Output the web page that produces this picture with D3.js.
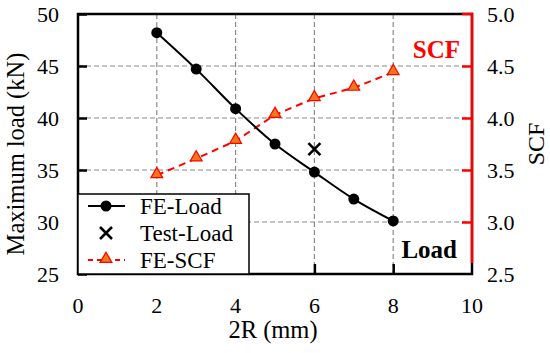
<!DOCTYPE html>
<html>
<head>
<meta charset="utf-8">
<script src="https://cdn.jsdelivr.net/npm/d3@7"></script>
<style>
  body { margin: 0; background: #fff; }
</style>
</head>
<body>
<svg id="chart" width="550" height="353"></svg>
<script>
// data
const diameters = [2, 3, 4, 5, 6, 7, 8];          // 2R (mm)
const feLoad = [48.2, 44.7, 40.9, 37.5, 34.8, 32.2, 30.1];   // kN
const testX = [6];
const testLoad = [37.0];
const feScf = [3.45, 3.61, 3.78, 4.03, 4.19, 4.29, 4.44];
const xTicks = [0, 2, 4, 6, 8, 10];
const yTicks = [25, 30, 35, 40, 45, 50];
const y2Ticks = [2.5, 3.0, 3.5, 4.0, 4.5, 5.0];
const legendNames = ["FE-Load", "Test-Load", "FE-SCF"];

const FONT = "'Liberation Serif', 'Times New Roman', 'DejaVu Serif', serif";
const margin = {top: 14, left: 78, right: 78, bottom: 79};
const W = 550, H = 353;
const svg = d3.select("#chart");

const x = d3.scaleLinear().domain([0, 10]).range([margin.left, W - margin.right]);
const y = d3.scaleLinear().domain([25, 50]).range([H - margin.bottom, margin.top]);
const y2 = d3.scaleLinear().domain([2.5, 5.0]).range([H - margin.bottom, margin.top]);

const x0 = x(0), x1 = x(10), yb = y(25), yt = y(50);

// grid
svg.append("g").selectAll("line")
  .data(xTicks.filter(d => d > 0 && d < 10))
  .join("line")
  .attr("x1", d => x(d)).attr("x2", d => x(d))
  .attr("y1", yt).attr("y2", yb)
  .attr("stroke", "#8a8a8a").attr("stroke-width", 1.2).attr("stroke-dasharray", "5,3");
svg.append("g").selectAll("line")
  .data(yTicks.filter(d => d > 25 && d < 50))
  .join("line")
  .attr("y1", d => y(d)).attr("y2", d => y(d))
  .attr("x1", x0).attr("x2", x1)
  .attr("stroke", "#8a8a8a").attr("stroke-width", 1.2).attr("stroke-dasharray", "5,3");

// frame
svg.append("rect")
  .attr("x", x0).attr("y", yt).attr("width", x1 - x0).attr("height", yb - yt)
  .attr("fill", "none").attr("stroke", "#000").attr("stroke-width", 2.5);

// left axis (ticks inside)
const yAxis = svg.append("g").attr("transform", `translate(${x0},0)`)
  .call(d3.axisRight(y).tickValues(yTicks).tickSize(9).tickFormat(""));
yAxis.select(".domain").remove();
yAxis.selectAll("line").attr("stroke", "#000").attr("stroke-width", 2.5);
svg.append("g").selectAll("text")
  .data(yTicks).join("text")
  .attr("x", 59).attr("y", d => y(d) + 7.5)
  .attr("text-anchor", "end").attr("font-size", 22)
  .style("font-family", FONT)
  .text(d => d);

// bottom axis ticks (inside)
const xAxis = svg.append("g").attr("transform", `translate(0,${yb})`)
  .call(d3.axisTop(x).tickValues(xTicks.filter(d => d > 0 && d < 10)).tickSize(10).tickFormat(""));
xAxis.select(".domain").remove();
xAxis.selectAll("line").attr("stroke", "#000").attr("stroke-width", 2.5);
svg.append("g").selectAll("text")
  .data(xTicks).join("text")
  .attr("x", d => x(d)).attr("y", 313)
  .attr("text-anchor", "middle").attr("font-size", 22)
  .style("font-family", FONT)
  .text(d => d);

// right axis in red
const y2Axis = svg.append("g").attr("transform", `translate(${x1},0)`)
  .call(d3.axisLeft(y2).tickValues(y2Ticks.filter(d => d > 2.5 && d < 5)).tickSize(10).tickFormat(""));
y2Axis.select(".domain").remove();
y2Axis.selectAll("line").attr("stroke", "#ff0000").attr("stroke-width", 2.5);
svg.append("path")
  .attr("d", `M${x1 - 10},${yt} H${x1} V${yb - 11}`)
  .attr("fill", "none").attr("stroke", "#ff0000").attr("stroke-width", 2.5);
svg.append("g").selectAll("text")
  .data(y2Ticks).join("text")
  .attr("x", 487).attr("y", d => y2(d) + 7.5)
  .attr("text-anchor", "start").attr("font-size", 22)
  .style("font-family", FONT)
  .text(d => d.toFixed(1));

// axis titles
svg.append("text")
  .attr("transform", `translate(24,154) rotate(-90)`)
  .attr("text-anchor", "middle").attr("font-size", 24.5)
  .style("font-family", FONT)
  .text("Maximum load (kN)");
svg.append("text")
  .attr("transform", `translate(544,144) rotate(-90)`)
  .attr("text-anchor", "middle").attr("font-size", 24)
  .style("font-family", FONT)
  .text("SCF");
svg.append("text")
  .attr("x", 273).attr("y", 338)
  .attr("text-anchor", "middle").attr("font-size", 24.5)
  .style("font-family", FONT)
  .text("2R (mm)");

// FE-SCF series
const triangle = d3.symbol().type(d3.symbolTriangle).size(60);
svg.append("path")
  .datum(diameters.map((d, i) => [d, feScf[i]]))
  .attr("d", d3.line().x(d => x(d[0])).y(d => y2(d[1])))
  .attr("fill", "none").attr("stroke", "#ff0000").attr("stroke-width", 2).attr("stroke-dasharray", "7,5");
svg.append("g").selectAll("path")
  .data(diameters.map((d, i) => [d, feScf[i]]))
  .join("path")
  .attr("d", triangle)
  .attr("transform", d => `translate(${x(d[0])},${y2(d[1]) - 1})`)
  .attr("fill", "#f07818").attr("stroke", "#ff0000").attr("stroke-width", 1.2);

// FE-Load series
svg.append("path")
  .datum(diameters.map((d, i) => [d, feLoad[i]]))
  .attr("d", d3.line().curve(d3.curveMonotoneX).x(d => x(d[0])).y(d => y(d[1])))
  .attr("fill", "none").attr("stroke", "#000").attr("stroke-width", 2);
svg.append("g").selectAll("circle")
  .data(diameters.map((d, i) => [d, feLoad[i]]))
  .join("circle")
  .attr("cx", d => x(d[0])).attr("cy", d => y(d[1])).attr("r", 5.5)
  .attr("fill", "#000");

// Test-Load
const cross = (g, cx, cy, s) => {
  g.append("path")
    .attr("d", `M${cx - s},${cy - s}L${cx + s},${cy + s}M${cx - s},${cy + s}L${cx + s},${cy - s}`)
    .attr("stroke", "#000").attr("stroke-width", 2.6).attr("fill", "none");
};
testX.forEach((d, i) => cross(svg, x(d), y(testLoad[i]), 6));

// annotations
svg.append("text")
  .attr("x", 460).attr("y", 58).attr("text-anchor", "end")
  .attr("font-size", 25).attr("font-weight", "bold").attr("fill", "#ff0000")
  .style("font-family", FONT)
  .text("SCF");
svg.append("text")
  .attr("x", 457).attr("y", 258).attr("text-anchor", "end")
  .attr("font-size", 25).attr("font-weight", "bold").attr("fill", "#000")
  .style("font-family", FONT)
  .text("Load");

// legend
const lg = svg.append("g");
lg.append("rect")
  .attr("x", x0).attr("y", 194).attr("width", 249 - x0).attr("height", yb - 194)
  .attr("fill", "#fff").attr("stroke", "#000").attr("stroke-width", 1.5);
const rowY = [206, 233, 260];
// FE-Load
lg.append("line").attr("x1", 88).attr("x2", 125).attr("y1", rowY[0]).attr("y2", rowY[0])
  .attr("stroke", "#000").attr("stroke-width", 2);
lg.append("circle").attr("cx", 106).attr("cy", rowY[0]).attr("r", 5.5).attr("fill", "#000");
// Test-Load
cross(lg, 106, rowY[1], 6);
// FE-SCF
lg.append("line").attr("x1", 88).attr("x2", 125).attr("y1", rowY[2]).attr("y2", rowY[2])
  .attr("stroke", "#ff0000").attr("stroke-width", 2).attr("stroke-dasharray", "5,4");
lg.append("path").attr("d", triangle)
  .attr("transform", `translate(106,${rowY[2] - 1})`)
  .attr("fill", "#f07818").attr("stroke", "#ff0000").attr("stroke-width", 1.2);
lg.selectAll("text")
  .data(legendNames).join("text")
  .attr("x", 140).attr("y", (d, i) => rowY[i] + 8)
  .attr("font-size", 23)
  .style("font-family", FONT)
  .text(d => d);
</script>
</body>
</html>
